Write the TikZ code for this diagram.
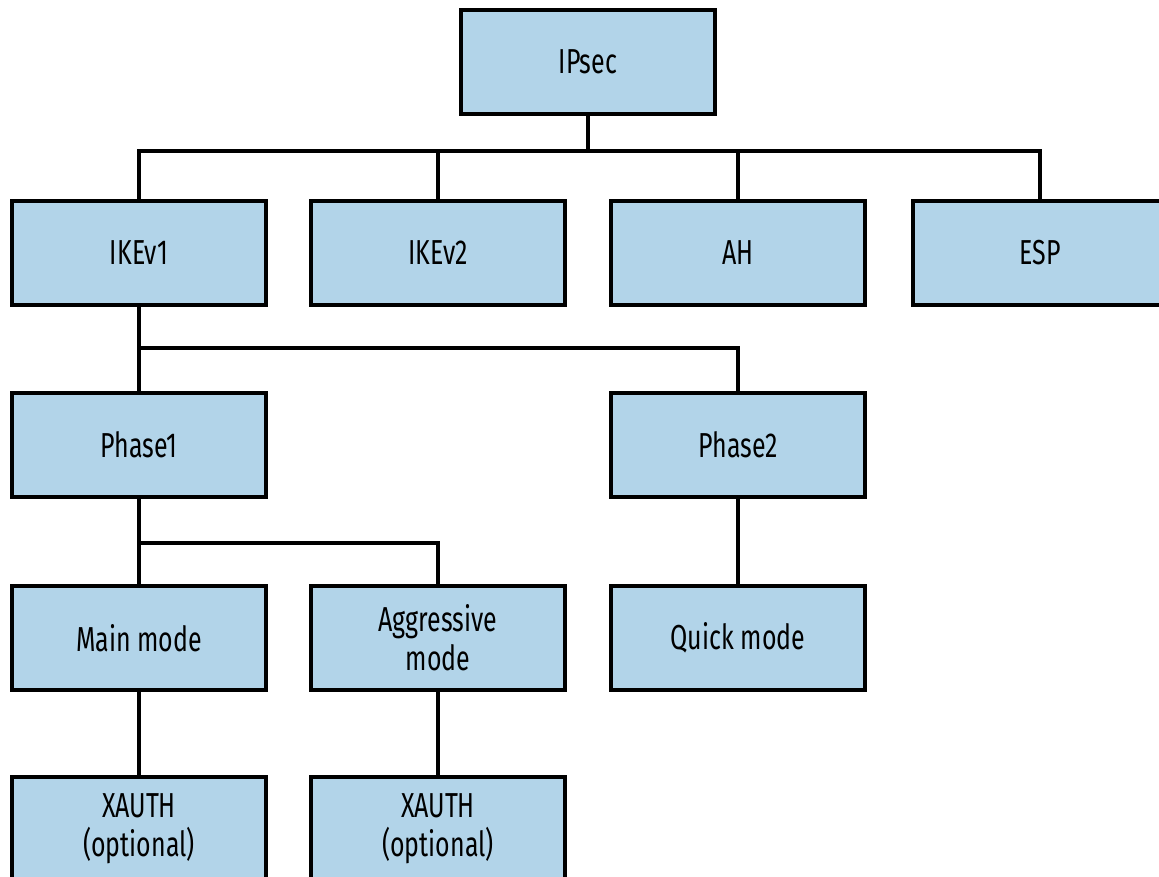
\documentclass[tikz,border=0pt]{standalone}
\usepackage{fontspec}
\setmainfont{Fira Sans}[FakeStretch=0.72]
\usetikzlibrary{positioning}
\definecolor{cbox}{HTML}{B2D4E9}
\tikzset{
  every picture/.style={line width=3pt},
  box/.style={draw=black, fill=cbox, align=center, inner sep=0pt,
    minimum width=191pt, minimum height=78pt,
    font=\fontsize{26}{29.5}\selectfont},
  link/.style={draw=black, line width=3pt},
}
\begin{document}
\begin{tikzpicture}[x=0.75pt, y=-0.75pt]
  \useasboundingbox (0,0) rectangle (1159,877);
  % top
  \node[box] (ipsec) at (588,62) {IPsec};
  % protocols
  \node[box] (ikev1) at (139,253) {IKEv1};
  \node[box] (ikev2) at (438,253) {IKEv2};
  \node[box] (ah) at (738,253) {AH};
  \node[box] (esp) at (1040,253) {ESP};
  % phases
  \node[box] (phase1) at (139,444.5) {Phase1};
  \node[box] (phase2) at (738,444.5) {Phase2};
  % modes
  \node[box] (main) at (139,638) {Main mode};
  \node[box] (aggr) at (438,638) {Aggressive\\mode};
  \node[box] (quick) at (738,638) {Quick mode};
  \node[box] (xauthm) at (139,829) {XAUTH\\(optional)};
  \node[box] (xautha) at (438,829) {XAUTH\\(optional)};
  % tree lines
  \foreach \n in {ikev1,ikev2,ah,esp} \draw[link] (ipsec.south) -- ++(0,35) -| (\n.north);
  \foreach \n in {phase1,phase2} \draw[link] (ikev1.south) -- ++(0,41) -| (\n.north);
  \foreach \n in {main,aggr} \draw[link] (phase1.south) -- ++(0,44) -| (\n.north);
  \draw[link] (phase2) -- (quick);
  \draw[link] (main) -- (xauthm);
  \draw[link] (aggr) -- (xautha);
\end{tikzpicture}
\end{document}
